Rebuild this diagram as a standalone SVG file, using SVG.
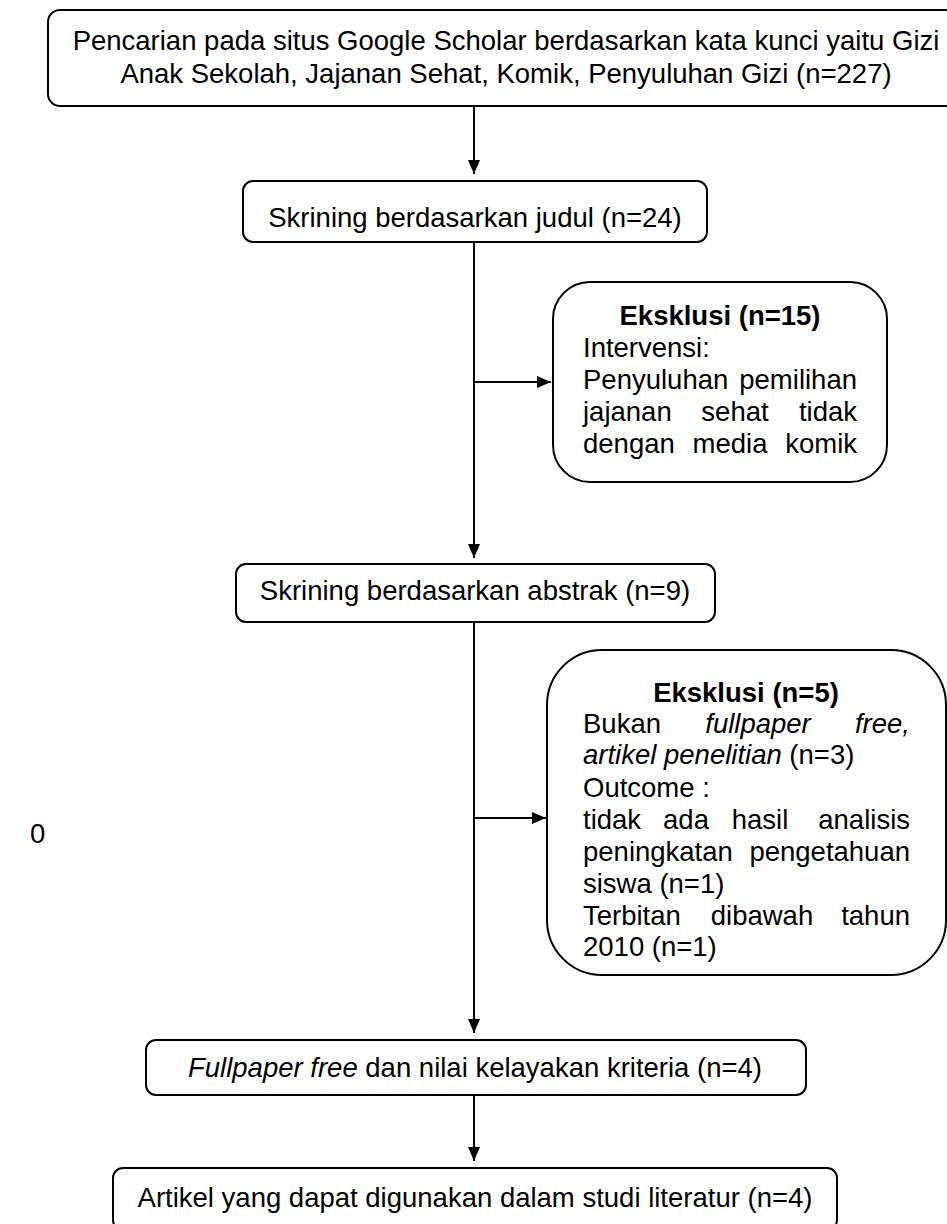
<svg xmlns="http://www.w3.org/2000/svg" width="947" height="1224" viewBox="0 0 947 1224">
<style>
text{font-family:"Liberation Sans",Arial,sans-serif;font-size:27.5px;fill:#000}
.box{fill:#fff;stroke:#000;stroke-width:2}
.c{text-anchor:middle}
.e{text-anchor:end}
.b{font-weight:bold}
.i{font-style:italic}
.ln{stroke:#000;stroke-width:2;fill:none}
</style>
<defs>
<marker id="ah" markerUnits="userSpaceOnUse" markerWidth="14" markerHeight="12" viewBox="0 0 14 12" refX="14" refY="6" orient="auto">
<path d="M0,0 L14,6 L0,12 Z" fill="#000"/>
</marker>
</defs>
<rect width="947" height="1224" fill="#fff"/>
<g id="connectors">
<line class="ln" x1="474" y1="106" x2="474" y2="174" marker-end="url(#ah)"/>
<line class="ln" x1="474" y1="242" x2="474" y2="558" marker-end="url(#ah)"/>
<line class="ln" x1="474" y1="382" x2="551" y2="382" marker-end="url(#ah)"/>
<line class="ln" x1="474" y1="622" x2="474" y2="1033" marker-end="url(#ah)"/>
<line class="ln" x1="474" y1="818" x2="546" y2="818" marker-end="url(#ah)"/>
<line class="ln" x1="474" y1="1095" x2="474" y2="1161" marker-end="url(#ah)"/>
</g>
<g id="n1">
<rect class="box" x="48" y="10" width="917" height="96" rx="12"/>
<text class="c" x="506" y="50">Pencarian pada situs Google Scholar berdasarkan kata kunci yaitu Gizi</text>
<text class="c" x="506" y="83">Anak Sekolah, Jajanan Sehat, Komik, Penyuluhan Gizi (n=227)</text>
</g>
<g id="n2">
<rect class="box" x="243" y="181" width="464" height="61" rx="10"/>
<text class="c" x="475" y="227">Skrining berdasarkan judul (n=24)</text>
</g>
<g id="n3">
<rect class="box" x="553" y="282" width="334" height="200" rx="37"/>
<text class="c b" x="720" y="325">Eksklusi (n=15)</text>
<text x="583" y="357">Intervensi:</text>
<text x="583" y="389">Penyuluhan</text><text class="e" x="857" y="389">pemilihan</text>
<text x="583" y="421">jajanan</text><text class="c" x="735" y="421">sehat</text><text class="e" x="857" y="421">tidak</text>
<text x="583" y="453">dengan</text><text class="c" x="730" y="453">media</text><text class="e" x="857" y="453">komik</text>
</g>
<g id="n4">
<rect class="box" x="236" y="564" width="479" height="58" rx="10"/>
<text class="c" x="475" y="600">Skrining berdasarkan abstrak (n=9)</text>
</g>
<g id="n5">
<rect class="box" x="547" y="650" width="399" height="325" rx="55"/>
<text class="c b" x="746" y="702">Eksklusi (n=5)</text>
<text x="583" y="733">Bukan</text><text class="c i" x="758" y="733">fullpaper</text><text class="e i" x="910" y="733">free,</text>
<text x="583" y="764"><tspan class="i">artikel penelitian</tspan> (n=3)</text>
<text x="583" y="797">Outcome :</text>
<text x="583" y="829">tidak</text><text class="c" x="686" y="829">ada</text><text class="c" x="760" y="829">hasil</text><text class="e" x="910" y="829">analisis</text>
<text x="583" y="861">peningkatan</text><text class="e" x="910" y="861">pengetahuan</text>
<text x="583" y="893">siswa (n=1)</text>
<text x="583" y="925">Terbitan</text><text class="c" x="762" y="925">dibawah</text><text class="e" x="910" y="925">tahun</text>
<text x="583" y="956">2010 (n=1)</text>
</g>
<g id="n6">
<text x="30" y="843">0</text>
</g>
<g id="n7">
<rect class="box" x="146" y="1040" width="660" height="55" rx="10"/>
<text class="c" x="475" y="1077"><tspan class="i">Fullpaper free</tspan> dan nilai kelayakan kriteria (n=4)</text>
</g>
<g id="n8">
<rect class="box" x="113" y="1168" width="724" height="62" rx="10"/>
<text class="c" x="475" y="1207">Artikel yang dapat digunakan dalam studi literatur (n=4)</text>
</g>
</svg>
